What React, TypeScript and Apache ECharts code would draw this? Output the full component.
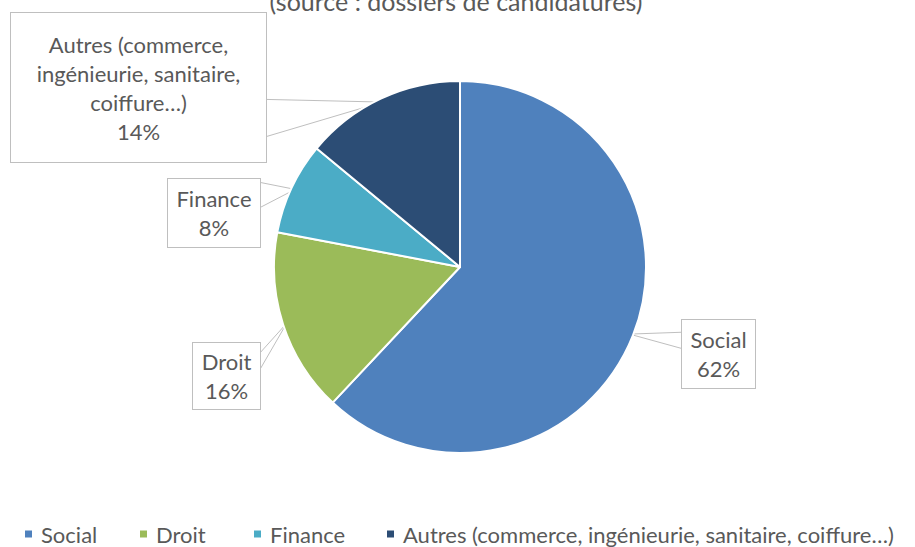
import React, { useEffect, useRef } from "react";
import * as echarts from "echarts";

const categories = [
  "Social",
  "Droit",
  "Finance",
  "Autres (commerce, ingénieurie, sanitaire, coiffure…)",
];
const labelNames = [
  "Social",
  "Droit",
  "Finance",
  "Autres (commerce,\ningénieurie, sanitaire,\ncoiffure…)",
];
const values = [62, 16, 8, 14];
const colors = ["#4F81BD", "#9BBB59", "#4BACC6", "#2C4D75"];
const titleText = "(source : dossiers de candidatures)";

// layout (positions/sizes only)
const CX = 460;
const CY = 267;
const R = 186;
const FONT = "Lato, Carlito, Calibri, sans-serif";
const boxes = [
  { cx: 718.5, cy: 354, w: 73, h: 68, side: "left", b1: 0.18, b2: 0.42 },
  { cx: 226.5, cy: 376, w: 67, h: 66, side: "right", b1: 0.15, b2: 0.4 },
  { cx: 214, cy: 213, w: 92, h: 68, side: "right", b1: 0.05, b2: 0.42 },
  { cx: 138.5, cy: 87.5, w: 255, h: 149, side: "right", b1: 0.58, b2: 0.83 },
];
const legendLeft = [23, 138, 252, 385];

export default function App() {
  const ref = useRef<HTMLDivElement>(null);
  useEffect(() => {
    document.body.style.margin = "0";
    const chart = echarts.init(ref.current!, undefined, { renderer: "svg" });
    const total = values.reduce((a, b) => a + b, 0);
    let cum = 0;
    const wedges = values.map((v, i) => {
      const th = ((cum + v / 2) / total) * Math.PI * 2;
      cum += v;
      const tip = [CX + R * 0.98 * Math.sin(th), CY - R * 0.98 * Math.cos(th)];
      const b = boxes[i];
      const ex = b.side === "left" ? b.cx - b.w / 2 : b.cx + b.w / 2;
      const top = b.cy - b.h / 2;
      return {
        type: "polygon",
        z: 1,
        silent: true,
        shape: {
          points: [tip, [ex, top + b.h * b.b1], [ex, top + b.h * b.b2]],
        },
        style: { fill: "#fff", stroke: "#BFBFBF", lineWidth: 1 },
      };
    });
    const lineH = 29;
    chart.setOption({
      animation: false,
      backgroundColor: "#fff",
      color: colors,
      graphic: [
        {
          type: "text",
          x: 456,
          y: 1,
          style: {
            text: titleText,
            fill: "#595959",
            font: `25px ${FONT}`,
            textAlign: "center",
            textVerticalAlign: "middle",
          },
        },
        ...wedges,
      ],
      legend: categories.map((c, i) => ({
        data: [c],
        left: legendLeft[i],
        top: 523,
        padding: 0,
        itemWidth: 9,
        itemHeight: 9,
        itemGap: 0,
        icon: "rect",
        textStyle: {
          color: "#595959",
          fontSize: 22,
          lineHeight: 22,
          fontFamily: FONT,
          padding: [0, 0, 0, 3],
        },
        selectedMode: false,
      })),
      series: [
        {
          type: "pie",
          center: [CX, CY],
          radius: R,
          startAngle: 90,
          clockwise: true,
          z: 2,
          itemStyle: { borderColor: "#fff", borderWidth: 2 },
          labelLine: { show: false },
          label: {
            show: true,
            position: "outside",
            color: "#595959",
            fontSize: 22,
            fontFamily: FONT,
            lineHeight: lineH,
            align: "center",
            backgroundColor: "#fff",
            borderColor: "#BFBFBF",
            borderWidth: 1,
            formatter: (p: any) =>
              labelNames[p.dataIndex] + "\n" + Math.round(p.percent) + "%",
          },
          labelLayout: (p: any) => {
            const b = boxes[p.dataIndex];
            return { x: b.cx, y: b.cy, align: "center", verticalAlign: "middle" };
          },
          data: categories.map((c, i) => {
            const b = boxes[i];
            const lines = labelNames[i].split("\n").length + 1;
            const pv = (b.h - lines * lineH) / 2;
            return {
              name: c,
              value: values[i],
              label: { width: b.w - 6, padding: [pv, 3] },
            };
          }),
        },
      ],
    });
    return () => chart.dispose();
  }, []);
  return <div ref={ref} style={{ width: 915, height: 547 }} />;
}
